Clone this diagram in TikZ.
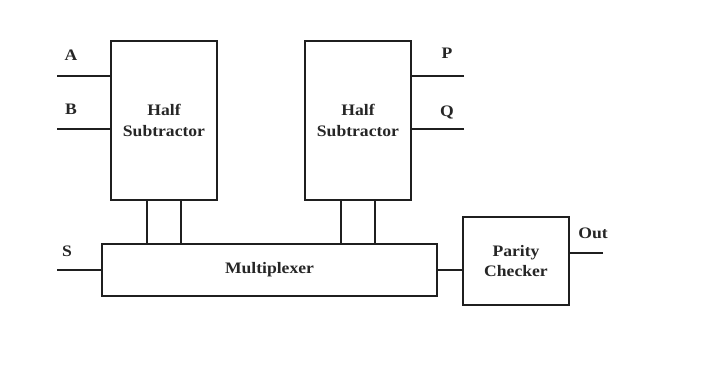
\documentclass[tikz,border=0pt]{standalone}
\usepackage{fontspec}
\setmainfont[FakeStretch=1.1]{Liberation Serif}
\begin{document}
\begin{tikzpicture}[x=0.75pt,y=-0.75pt,
  line width=1.3pt, draw=black!88,
  every node/.style={font=\fontsize{12}{15.5}\selectfont\bfseries, text=black!85},
  block/.style={draw, rectangle, align=center, inner sep=0pt},
  pinlabel/.style={inner sep=0pt}]
\useasboundingbox (0,0) rectangle (722,371);

% blocks
\node[block, minimum width=79.5pt, minimum height=119.25pt] (hs1) at (164,120.5) {Half\\Subtractor};
\node[block, minimum width=79.5pt, minimum height=119.25pt] (hs2) at (358,120.5) {Half\\Subtractor};
\node[block, minimum width=251.25pt, minimum height=39.4pt] (mux) at (269.5,270) {Multiplexer};
\node[block, minimum width=79.5pt, minimum height=66.4pt] (pc) at (516,261) {Parity\\Checker};

% free ends of the signal lines
\coordinate (a) at (57,76);
\coordinate (b) at (57,129);
\coordinate (p) at (464,76);
\coordinate (q) at (464,129);
\coordinate (s) at (57,270);
\coordinate (out) at (603,253);

% inputs and outputs
\draw (a) -- (a -| hs1.west);
\draw (b) -- (b -| hs1.west);
\draw (p) -- (p -| hs2.east);
\draw (q) -- (q -| hs2.east);
\draw (s) -- (s -| mux.west);
\draw (mux.east) -- (mux.east -| pc.west);
\draw (out) -- (out -| pc.east);

% links from the subtractors down to the multiplexer
\draw ([xshift=-12.75pt]hs1.south) -- ([xshift=-12.75pt]hs1.south |- mux.north);
\draw ([xshift=12.75pt]hs1.south) -- ([xshift=12.75pt]hs1.south |- mux.north);
\draw ([xshift=-13pt]hs2.south) -- ([xshift=-13pt]hs2.south |- mux.north);
\draw ([xshift=12.75pt]hs2.south) -- ([xshift=12.75pt]hs2.south |- mux.north);

% signal names
\node[pinlabel] (la) at (71,55) {A};
\node[pinlabel] (lb) at (71,109) {B};
\node[pinlabel] (lp) at (447,53) {P};
\node[pinlabel] (lq) at (447,112) {Q};
\node[pinlabel] (ls) at (67,251) {S};
\node[pinlabel] (lo) at (593,233) {Out};
\end{tikzpicture}
\end{document}
